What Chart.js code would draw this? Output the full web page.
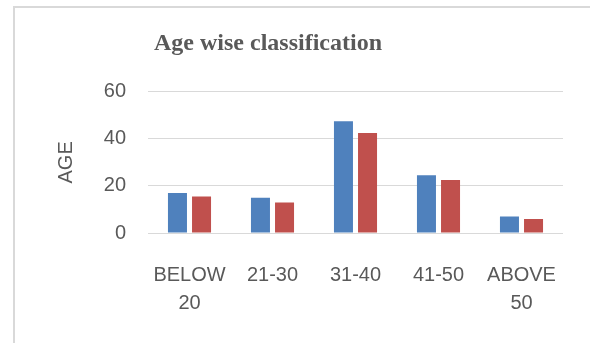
<!DOCTYPE html>
<html>
<head>
<meta charset="utf-8">
<script src="https://cdn.jsdelivr.net/npm/chart.js@4/dist/chart.umd.min.js"></script>
<style>
  html, body { margin: 0; padding: 0; background: #fff; overflow: hidden; }
  #frame { position: absolute; left: 13px; top: 6px; width: 620px; height: 400px; border: 2px solid #d9d9d9; }
  #wrap { position: absolute; left: -27px; top: 0; width: 590px; height: 343px; }
</style>
</head>
<body>
<div id="frame"></div>
<div id="wrap"><canvas id="ageChart" width="590" height="343"></canvas></div>
<script>
// data
const categories = [['BELOW', '20'], '21-30', '31-40', '41-50', ['ABOVE', '50']];
const seriesBlue = [17, 15, 47.5, 24.5, 7];
const seriesRed = [15.5, 13, 42.5, 22.5, 6];
const yTicks = [0, 20, 40, 60];

const grey = '#595959';

new Chart(document.getElementById('ageChart'), {
    type: 'bar',
    data: {
        labels: categories,
        datasets: [
            { data: seriesBlue, backgroundColor: '#4F81BD' },
            { data: seriesRed, backgroundColor: '#C0504D' }
        ]
    },
    options: {
        responsive: false,
        animation: false,
        layout: { padding: { top: 0, right: 0, bottom: 0, left: 0 } },
        categoryPercentage: 0.58,
        barPercentage: 0.79,
        plugins: {
            legend: { display: false },
            tooltip: { enabled: false },
            title: {
                display: true,
                text: 'Age wise classification',
                color: grey,
                font: { family: '"Liberation Serif", serif', size: 24, weight: 'bold' },
                padding: { top: 29, bottom: 34 }
            }
        },
        scales: {
            x: {
                grid: { display: false },
                border: { display: true, color: '#d9d9d9', width: 1 },
                ticks: {
                    color: grey,
                    padding: 20,
                    maxRotation: 0,
                    autoSkip: false,
                    font: { family: '"Liberation Sans", sans-serif', size: 20, lineHeight: 1.4 }
                },
                afterFit: s => {
                    s.height = 110;
                    s.paddingLeft = 0;
                    s.paddingRight = 0;
                }
            },
            y: {
                min: 0,
                max: 60,
                afterBuildTicks: s => { s.ticks = yTicks.map(v => ({ value: v })); },
                grid: { color: '#d9d9d9', lineWidth: 1, drawTicks: false },
                border: { display: false },
                ticks: {
                    color: grey,
                    padding: 22,
                    font: { family: '"Liberation Sans", sans-serif', size: 20 }
                },
                title: {
                    display: true,
                    text: 'AGE',
                    color: grey,
                    padding: { top: 81, bottom: 0 },
                    font: { family: '"Liberation Sans", sans-serif', size: 20 }
                },
                afterFit: s => { s.width = 175; }
            }
        }
    }
});
</script>
</body>
</html>
